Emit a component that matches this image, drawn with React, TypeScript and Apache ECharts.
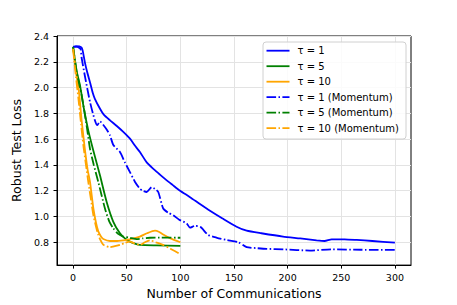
import React, { useEffect, useRef } from "react";
import * as echarts from "echarts";

const xTicks = [0, 50, 100, 150, 200, 250, 300];
const yTicks = [0.8, 1.0, 1.2, 1.4, 1.6, 1.8, 2.0, 2.2, 2.4];

const tau1X = [0, 2.7, 5.8, 7.9, 9.0, 11.0, 13.1, 15.8, 18.3, 20.3, 25.1, 28.6, 34.4, 41.0, 46.8, 53.4, 57.6, 62.3, 68.6, 74.1, 80.3, 87.3, 92.7, 99.7, 109.0, 118.6, 127.6, 139.3, 152.4, 161.8, 175.5, 195.7, 211.7, 227.0, 234.5, 241.0, 253.1, 264.4, 279.0, 300];
const tau1Y = [2.315, 2.322, 2.32, 2.31, 2.285, 2.195, 2.12, 2.04, 1.96, 1.913, 1.836, 1.79, 1.746, 1.7, 1.656, 1.6, 1.55, 1.5, 1.42, 1.375, 1.33, 1.28, 1.245, 1.2, 1.15, 1.095, 1.045, 0.985, 0.921, 0.89, 0.87, 0.844, 0.83, 0.815, 0.81, 0.823, 0.823, 0.818, 0.81, 0.797];

const tau1MX = [0, 3.8, 6.9, 7.9, 11.0, 15.8, 20.3, 22.6, 25.1, 28.2, 31.3, 34.4, 37.5, 43.7, 48.3, 53.0, 57.6, 62.3, 64.8, 68.6, 73.3, 76.2, 79.4, 84.0, 88.6, 93.4, 98.9, 105.9, 109.0, 113.6, 118.6, 126.0, 134.1, 143.1, 154.0, 161.8, 170.3, 180.5, 196.2, 220.8, 240.7, 268.6, 300];
const tau1MY = [2.315, 2.315, 2.3, 2.233, 2.09, 1.887, 1.746, 1.708, 1.738, 1.71, 1.675, 1.63, 1.554, 1.5, 1.42, 1.344, 1.27, 1.215, 1.2, 1.19, 1.228, 1.215, 1.19, 1.062, 1.03, 1.01, 0.975, 0.946, 0.913, 0.928, 0.92, 0.856, 0.835, 0.818, 0.8, 0.762, 0.755, 0.749, 0.745, 0.736, 0.745, 0.742, 0.741];

const tau5X = [0, 3.3, 6.5, 10.0, 14.1, 18.9, 25.1, 31.3, 37.5, 43.7, 48.3, 53.0, 57.6, 62.3, 77.9, 100];
const tau5Y = [2.315, 2.13, 2.015, 1.84, 1.67, 1.51, 1.318, 1.113, 0.959, 0.869, 0.83, 0.805, 0.79, 0.78, 0.776, 0.772];

const tau5MX = [0, 3.3, 8.0, 12.7, 15.8, 19.3, 23.5, 29.7, 33.8, 37.5, 42.0, 46.8, 53.0, 59.3, 64.8, 71.6, 82.4, 100];
const tau5MY = [2.315, 2.12, 1.94, 1.7, 1.523, 1.4, 1.267, 1.062, 0.96, 0.908, 0.865, 0.844, 0.835, 0.825, 0.83, 0.835, 0.836, 0.835];

const tau10X = [0, 2.7, 5.3, 7.9, 11.0, 13.6, 15.8, 18.9, 21.4, 23.5, 26.0, 28.2, 34.4, 41.0, 49.9, 56.5, 62.3, 68.9, 76.3, 80.3, 84.0, 90.7, 100];
const tau10Y = [2.305, 2.12, 1.98, 1.75, 1.52, 1.36, 1.267, 1.062, 0.95, 0.885, 0.845, 0.825, 0.81, 0.81, 0.818, 0.83, 0.844, 0.87, 0.89, 0.88, 0.86, 0.83, 0.8];

const tau10MX = [0, 2.7, 4.9, 7.4, 9.6, 12.0, 14.2, 16.7, 18.9, 21.4, 23.5, 26.0, 28.2, 34.4, 38.9, 43.7, 48.3, 53.0, 57.6, 62.3, 66.9, 71.6, 77.2, 84.0, 90.7, 100];
const tau10MY = [2.3, 2.08, 1.92, 1.72, 1.55, 1.4, 1.267, 1.13, 1.01, 0.92, 0.856, 0.81, 0.78, 0.762, 0.77, 0.78, 0.795, 0.805, 0.79, 0.78, 0.8, 0.815, 0.8, 0.78, 0.75, 0.708];

const seriesNames = ["τ = 1", "τ = 5", "τ = 10", "τ = 1 (Momentum)", "τ = 5 (Momentum)", "τ = 10 (Momentum)"];
const seriesColors = ["#0000ff", "#008000", "#ffa500", "#0000ff", "#008000", "#ffa500"];
const seriesDashed = [false, false, false, true, true, true];

const zip = (xs: number[], ys: number[]) => xs.map((x, i) => [x, ys[i]]);

const FONT = "DejaVu Sans";
const DASHDOT = [9.6, 2.4, 1.5, 2.4];
const LW = 1.8;

export default function App() {
  const ref = useRef<HTMLDivElement>(null);
  useEffect(() => {
    if (!ref.current) return;
    const chart = echarts.init(ref.current, null, { renderer: "svg" });
    const allX = [tau1X, tau5X, tau10X, tau1MX, tau5MX, tau10MX];
    const allY = [tau1Y, tau5Y, tau10Y, tau1MY, tau5MY, tau10MY];
    const series = seriesNames.map((name, i) => ({
      name,
      type: "line",
      data: zip(allX[i], allY[i]),
      showSymbol: false,
      symbol: "none",
      smooth: 0.2,
      color: seriesColors[i],
      lineStyle: { color: seriesColors[i], width: LW, type: seriesDashed[i] ? DASHDOT : "solid" },
      z: 3,
    }));

    // legend drawn as graphic (matplotlib-like box)
    const lgLeft = 263;
    const lgTop = 42;
    const rowH = 15.5;
    const firstRow = 50.7;
    const legendChildren: any[] = [
      {
        type: "rect",
        shape: { x: lgLeft, y: lgTop, width: 143, height: 97, r: 3 },
        style: { fill: "rgba(255,255,255,0.85)", stroke: "#d0d0d0", lineWidth: 1 },
        z: 10,
      },
    ];
    seriesNames.forEach((name, i) => {
      const y = firstRow + i * rowH;
      legendChildren.push({
        type: "line",
        shape: { x1: 266.5, y1: y, x2: 289.5, y2: y },
        style: { stroke: seriesColors[i], lineWidth: LW, lineDash: seriesDashed[i] ? DASHDOT : null },
        z: 11,
      });
      legendChildren.push({
        type: "text",
        x: 297.5,
        y,
        style: { text: name, fontFamily: FONT, fontSize: 10, fill: "#000", verticalAlign: "middle", align: "left" },
        z: 11,
      });
    });

    chart.setOption({
      animation: false,
      grid: { left: 57, top: 36, right: 46, bottom: 38, show: true, borderColor: "#000", borderWidth: 1, backgroundColor: "transparent" },
      graphic: legendChildren,
      xAxis: {
        type: "value",
        min: -15,
        max: 315,
        name: "Number of Communications",
        nameLocation: "middle",
        nameGap: 21,
        nameTextStyle: { fontFamily: FONT, fontSize: 12.5, color: "#000", verticalAlign: "top" },
        axisLine: { show: true, onZero: false, lineStyle: { color: "#000", width: 1 } },
        axisTick: { show: true, inside: false, length: 3.5, lineStyle: { color: "#000" }, customValues: xTicks },
        axisLabel: { fontFamily: FONT, fontSize: 9.5, color: "#000", margin: 7, customValues: xTicks },
        splitLine: { show: true, lineStyle: { color: "#e3e3e3", width: 1 } },
      },
      yAxis: {
        type: "value",
        min: 0.623,
        max: 2.4,
        name: "Robust Test Loss",
        nameLocation: "middle",
        nameGap: 22,
        nameRotate: 90,
        nameTextStyle: { fontFamily: FONT, fontSize: 12.5, color: "#000" },
        axisLine: { show: true, onZero: false, lineStyle: { color: "#000", width: 1 } },
        axisTick: { show: true, inside: false, length: 3.5, lineStyle: { color: "#000" }, customValues: yTicks },
        axisLabel: { fontFamily: FONT, fontSize: 9.5, color: "#000", margin: 8, customValues: yTicks, formatter: (v: number) => v.toFixed(1) },
        splitLine: { show: true, lineStyle: { color: "#e3e3e3", width: 1 } },
      },
      series,
    });
    return () => chart.dispose();
  }, []);
  return <div ref={ref} style={{ width: 457, height: 305, position: "absolute", left: 0, top: 0 }} />;
}
